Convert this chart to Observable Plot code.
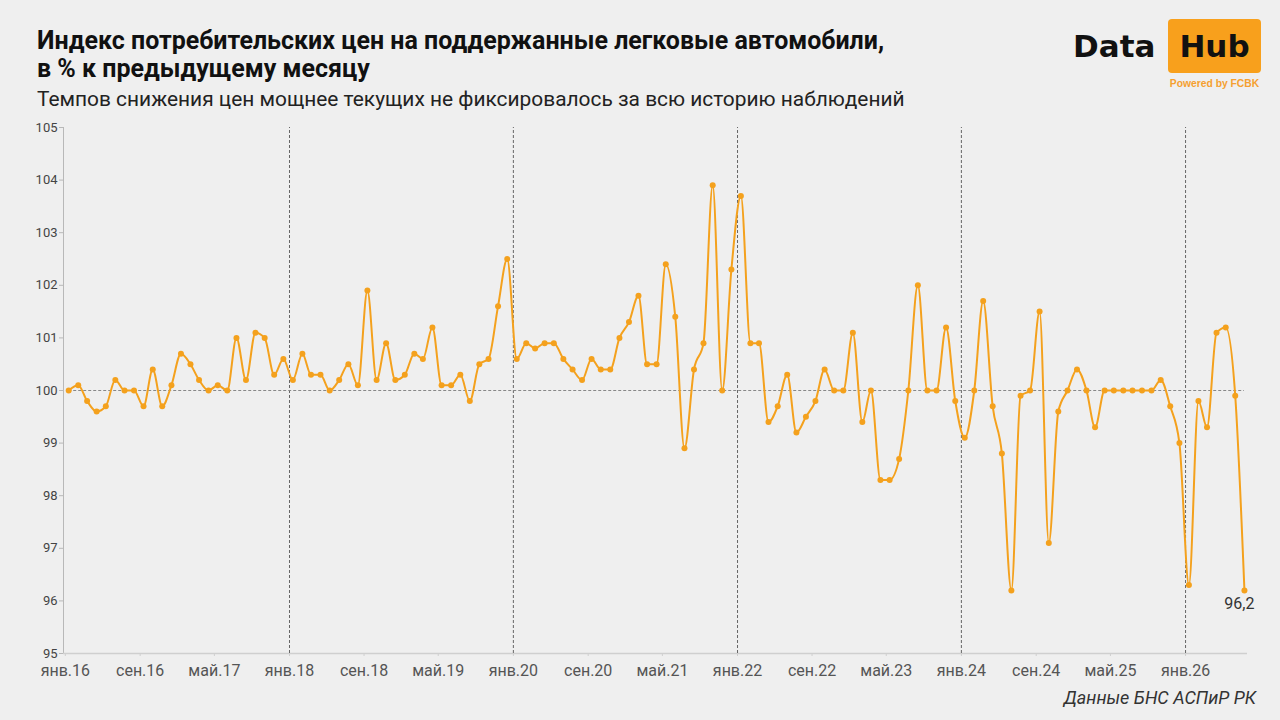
<!DOCTYPE html>
<html><head><meta charset="utf-8">
<script src="https://cdn.jsdelivr.net/npm/d3@7"></script>
<script src="https://cdn.jsdelivr.net/npm/@observablehq/plot@0.6"></script>
<style>
body{margin:0;background:#efefef;width:1280px;height:720px;overflow:hidden;position:relative;font-family:Roboto,sans-serif;}
#title{position:absolute;left:37px;top:27px;font-weight:700;font-size:25px;line-height:28px;color:#111;white-space:nowrap;}
#subtitle{position:absolute;left:37px;top:86px;font-size:20.9px;line-height:26px;color:#222;white-space:nowrap;}
#chart{position:absolute;left:0;top:115px;}
#logo{position:absolute;left:0;top:0;}
#source{position:absolute;right:24px;top:686px;font-style:italic;font-size:18px;line-height:24px;color:#333;white-space:nowrap;}
</style></head>
<body>
<div id="title">Индекс потребительских цен на поддержанные легковые автомобили,<br>в % к предыдущему месяцу</div>
<div id="subtitle">Темпов снижения цен мощнее текущих не фиксировалось за всю историю наблюдений</div>
<svg id="logo" width="1280" height="100">
  <text x="1073" y="57" font-family="DejaVu Sans" font-weight="bold" font-size="31" fill="#111">Data</text>
  <rect x="1168" y="19" width="93" height="54" rx="4" fill="#f8a01c"></rect>
  <text x="1214.5" y="57" text-anchor="middle" font-family="DejaVu Sans" font-weight="bold" font-size="31" fill="#111">Hub</text>
  <text x="1214.5" y="87" text-anchor="middle" font-family="Liberation Sans" font-weight="bold" font-size="10.3" fill="#f5a030">Powered by FCBK</text>
</svg>
<div id="chart"></div>
<div id="source">Данные БНС АСПиР РК</div>
<script>
// Monthly values starting Jan 2016
const startYear = 2016;
const values = [
  100.0,100.1,99.8,99.6,99.7,100.2,100.0,100.0,99.7,100.4,99.7,100.1,
  100.7,100.5,100.2,100.0,100.1,100.0,101.0,100.2,101.1,101.0,100.3,100.6,
  100.2,100.7,100.3,100.3,100.0,100.2,100.5,100.1,101.9,100.2,100.9,100.2,
  100.3,100.7,100.6,101.2,100.1,100.1,100.3,99.8,100.5,100.6,101.6,102.5,
  100.6,100.9,100.8,100.9,100.9,100.6,100.4,100.2,100.6,100.4,100.4,101.0,
  101.3,101.8,100.5,100.5,102.4,101.4,98.9,100.4,100.9,103.9,100.0,102.3,
  103.7,100.9,100.9,99.4,99.7,100.3,99.2,99.5,99.8,100.4,100.0,100.0,
  101.1,99.4,100.0,98.3,98.3,98.7,100.0,102.0,100.0,100.0,101.2,99.8,
  99.1,100.0,101.7,99.7,98.8,96.2,99.9,100.0,101.5,97.1,99.6,100.0,
  100.4,100.0,99.3,100.0,100.0,100.0,100.0,100.0,100.0,100.2,99.7,99.0,
  96.3,99.8,99.3,101.1,101.2,99.9,96.2
];
const tickMonths = [0,8,16,24,32,40,48,56,64,72,80,88,96,104,112,120];
const tickLabels = ["янв.16","сен.16","май.17","янв.18","сен.18","май.19","янв.20","сен.20","май.21","янв.22","сен.22","май.23","янв.24","сен.24","май.25","янв.26"];
const gridMonths = [24,48,72,96,120];
const yTicks = [95,96,97,98,99,100,101,102,103,104,105];
const baseline = 100;

const data = values.map((v, i) => ({date: new Date(Date.UTC(startYear, i, 12)), value: v}));
const tickDates = tickMonths.map(m => new Date(Date.UTC(startYear, m, 1)));
const labelByTime = new Map(tickDates.map((d, i) => [+d, tickLabels[i]]));
const gridDates = gridMonths.map(m => new Date(Date.UTC(startYear, m, 1)));
const xDomain = [new Date(Date.UTC(2015, 11, 26)), new Date(Date.UTC(2026, 6, 22))];
const last = data[data.length - 1];
const orange = "#f4a11d";

const chart = Plot.plot({
  width: 1280,
  height: 573,
  marginLeft: 63,
  marginRight: 33,
  marginTop: 12,
  marginBottom: 35,
  style: {fontFamily: "Roboto", background: "transparent", overflow: "visible"},
  x: {type: "utc", domain: xDomain},
  y: {domain: [95, 105]},
  marks: [
    Plot.ruleX([xDomain[0]], {stroke: "#b8b8b8"}),
    Plot.ruleY([95], {stroke: "#cfcfcf", strokeWidth: 1.5}),
    Plot.ruleX(gridDates, {y1: 95, y2: 105, stroke: "#666", strokeDasharray: "3,2", strokeWidth: 1}),
    Plot.ruleY([baseline], {x1: data[0].date, x2: last.date, stroke: "#888", strokeDasharray: "3,2", strokeWidth: 1}),
    Plot.axisY({ticks: yTicks, tickSize: 4, tickPadding: 2, fontSize: 13, fill: "#444", stroke: "#b8b8b8", label: null}),
    Plot.axisX({ticks: tickDates, tickFormat: d => labelByTime.get(+d), tickSize: 3, tickPadding: 8, fontSize: 16, fill: "#555", stroke: "#cfcfcf", label: null}),
    Plot.line(data, {x: "date", y: "value", curve: "monotone-x", stroke: orange, strokeWidth: 2}),
    Plot.dot(data, {x: "date", y: "value", r: 3, fill: orange}),
    Plot.text([last], {x: "date", y: "value", text: d => d.value.toFixed(1).replace(".", ","), dx: -5, dy: 13, fontSize: 16, fill: "#333", textAnchor: "middle"})
  ]
});
document.getElementById("chart").appendChild(chart);
</script>
</body></html>
